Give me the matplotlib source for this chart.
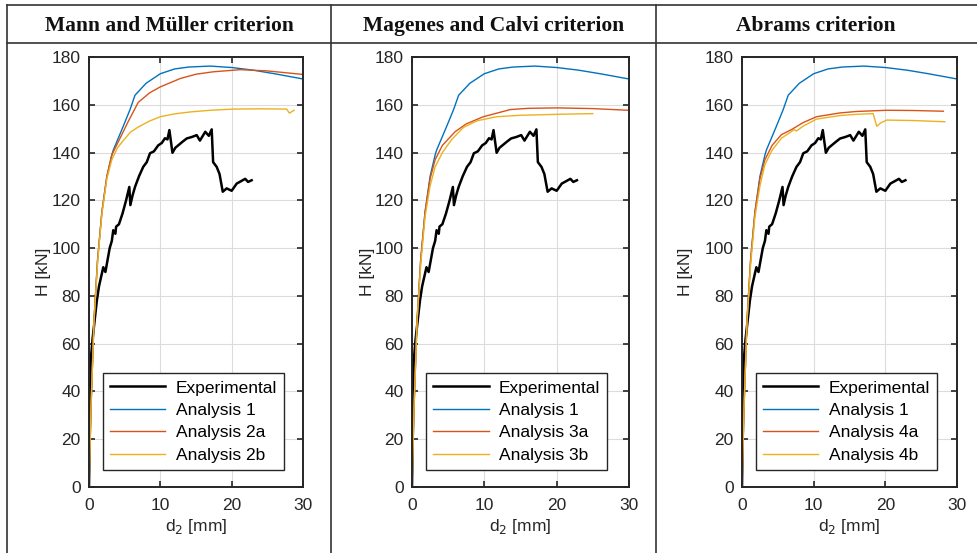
import numpy as np
import matplotlib as mpl
import matplotlib.pyplot as plt
from matplotlib.lines import Line2D

mpl.rcParams['font.family'] = ['Liberation Sans', 'DejaVu Sans']

# Panel titles and legend labels
titles = ['Mann and Müller criterion', 'Magenes and Calvi criterion', 'Abrams criterion']
labels_a = ['Analysis 2a', 'Analysis 3a', 'Analysis 4a']
labels_b = ['Analysis 2b', 'Analysis 3b', 'Analysis 4b']

# Experimental curve (same in all panels)
d_exp = [0, 0.1, 0.2, 0.3, 0.5, 0.8, 1.1, 1.4, 1.7, 2.0, 2.3, 2.6, 2.9, 3.2, 3.4,
         3.7, 3.8, 4.2, 4.7, 5.2, 5.65, 5.8, 6.1, 6.45, 7.0, 7.6, 8.1, 8.55, 9.1,
         9.7, 10.2, 10.65, 11.0, 11.27, 11.7, 12.1, 12.5, 13.1, 13.7, 14.4, 15.1,
         15.55, 16.3, 16.8, 17.2, 17.4, 17.9, 18.3, 18.75, 19.3, 20.0, 20.7,
         21.3, 21.9, 22.3, 22.8]
H_exp = [0, 25, 45, 55, 62, 70, 78, 84, 88, 92, 90, 95, 100, 103, 107.5,
         106, 109, 110, 114.5, 120, 125.6, 118, 122, 125.6, 130, 134, 136, 139.7, 140.5,
         143, 144, 146, 145.5, 149.4, 139.9, 142, 143, 144.5, 145.9, 146.5, 147.3,
         145, 148.7, 147, 149.7, 136, 134, 131, 123.6, 125, 124, 127,
         128, 129, 127.7, 128.4]

# Analysis 1 (same in all panels)
d_1 = [0, 0.3, 0.7, 1.2, 1.8, 2.5, 3.2, 3.4, 4.1, 4.8, 5.75, 6.45, 8, 10, 12, 14,
       17, 20, 23, 26, 30]
H_1 = [0, 35, 70, 95, 115, 130, 139, 141, 146, 151, 158, 164, 169, 173, 175, 175.8,
       176.2, 175.6, 174.5, 173, 170.8]

# Panel 1: Analysis 2a / 2b
d_2a = [0, 0.3, 0.7, 1.2, 1.8, 2.5, 3.2, 4.35, 5.5, 6.9, 8.5, 10, 12.8, 15, 17.4,
        21.2, 24.9, 30]
H_2a = [0, 35, 70, 95, 115, 130, 139, 146, 153, 161, 165, 167.5, 171, 172.8, 173.8,
        174.7, 174.2, 172.7]
d_2b = [0, 0.3, 0.7, 1.2, 1.8, 2.5, 3.2, 4.0, 4.8, 5.8, 6.9, 8.5, 10, 12, 14.2, 17,
        20.2, 24, 27.7, 28.1, 28.75]
H_2b = [0, 35, 69, 94, 114, 129, 137, 142, 145, 148.5, 150.7, 153.2, 155, 156.2, 157,
        157.7, 158.2, 158.3, 158.2, 156.5, 157.7]

# Panel 2: Analysis 3a / 3b
d_3a = [0, 0.3, 0.7, 1.2, 1.8, 2.5, 3.2, 4.2, 5.95, 7.5, 9.86, 13.6, 16, 20, 25, 29.9]
H_3a = [0, 35, 70, 95, 115, 129, 137, 143, 148.7, 152, 155, 158, 158.5, 158.7, 158.4,
        157.7]
d_3b = [0, 0.3, 0.7, 1.2, 1.8, 2.5, 3.2, 4.2, 5.5, 7.1, 9, 11.7, 15, 20, 25]
H_3b = [0, 35, 69, 93, 113, 126, 134, 140, 145.5, 150.5, 153.3, 155, 155.6, 156, 156.3]

# Panel 3: Analysis 4a / 4b
d_4a = [0, 0.3, 0.7, 1.2, 1.8, 2.5, 3.2, 4.2, 5.5, 6.9, 8.5, 10.4, 13.7, 16, 20.2, 24,
        28.1]
H_4a = [0, 35, 70, 95, 115, 129, 137, 143, 147.5, 149.6, 152.5, 155, 156.6, 157.2,
        157.7, 157.6, 157.3]
d_4b = [0, 0.3, 0.7, 1.2, 1.8, 2.5, 3.2, 4.2, 5.5, 6.9, 7.3, 7.6, 8.5, 10.4, 13.7, 16,
        18.3, 18.8, 19.4, 20.2, 24, 28.3]
H_4b = [0, 35, 69, 93, 113, 126, 135, 141, 146, 148.8, 149.6, 149, 151, 154, 155.5,
        156, 156.3, 151, 152.5, 153.6, 153.4, 152.9]

series_a = [(d_2a, H_2a), (d_3a, H_3a), (d_4a, H_4a)]
series_b = [(d_2b, H_2b), (d_3b, H_3b), (d_4b, H_4b)]

c_blue = '#0072BD'
c_red = '#D95319'
c_yel = '#EDB120'

W, Hpx = 977, 553
fig = plt.figure(figsize=(W / 100, Hpx / 100), dpi=100)

# axes placement in pixels: (left, right)
xpix = [(89, 303), (412, 629), (742, 957)]
ylab_x = [51, 375, 693]
top_px, bot_px = 57, 487
title_x = [169, 494, 816]
tc = '#262626'

for i in range(3):
    x0, x1 = xpix[i]
    ax = fig.add_axes([x0 / W, 1 - bot_px / Hpx, (x1 - x0) / W, (bot_px - top_px) / Hpx])
    ax.plot(d_exp, H_exp, color='black', lw=1.8, label='Experimental')
    ax.plot(d_1, H_1, color=c_blue, lw=1.0, label='Analysis 1')
    ax.plot(*series_a[i], color=c_red, lw=1.0, label=labels_a[i])
    ax.plot(*series_b[i], color=c_yel, lw=1.0, label=labels_b[i])

    ax.set_xlim(0, 30)
    ax.set_ylim(0, 180)
    ax.set_xticks([0, 10, 20, 30])
    ax.set_yticks(np.arange(0, 181, 20))
    ax.grid(True, color='#dcdcdc', lw=0.8)
    ax.tick_params(direction='in', top=True, right=True, length=4, width=1.2,
                   labelsize=12.5, colors=tc)
    ax.tick_params(axis='x', pad=8)
    ax.tick_params(axis='y', pad=6)
    for sp in ax.spines.values():
        sp.set_linewidth(1.4)
        sp.set_color(tc)
    ax.set_xlabel('d$_2$ [mm]', fontsize=12.5, color=tc, labelpad=3)
    ax.set_ylabel('H [kN]', fontsize=12.5, color=tc)
    ax.yaxis.set_label_coords((ylab_x[i] - x0) / (x1 - x0), 0.5)

    leg = ax.legend(loc='lower left', bbox_to_anchor=(0.065, 0.04), fontsize=12.5,
                    handlelength=3.2, labelspacing=0.42, borderpad=0.4,
                    handletextpad=0.6, borderaxespad=0, fancybox=False, framealpha=1)
    leg.get_frame().set_edgecolor(tc)
    leg.get_frame().set_linewidth(1.0)

    fig.text(title_x[i] / W, 1 - 26 / Hpx, titles[i], ha='center', va='center',
             family='Liberation Serif', fontweight='bold', fontsize=15.5, color='#111111')

# table grid lines
lc = '#333333'
fig.add_artist(Line2D([7 / W, 1], [1 - 5 / Hpx, 1 - 5 / Hpx], color=lc, lw=1.2))
fig.add_artist(Line2D([7 / W, 1], [1 - 43 / Hpx, 1 - 43 / Hpx], color=lc, lw=1.2))
for xv in [7, 331, 656]:
    fig.add_artist(Line2D([xv / W, xv / W], [0, 1 - 5 / Hpx], color=lc, lw=1.2))

fig.savefig('out.png', dpi=100)
